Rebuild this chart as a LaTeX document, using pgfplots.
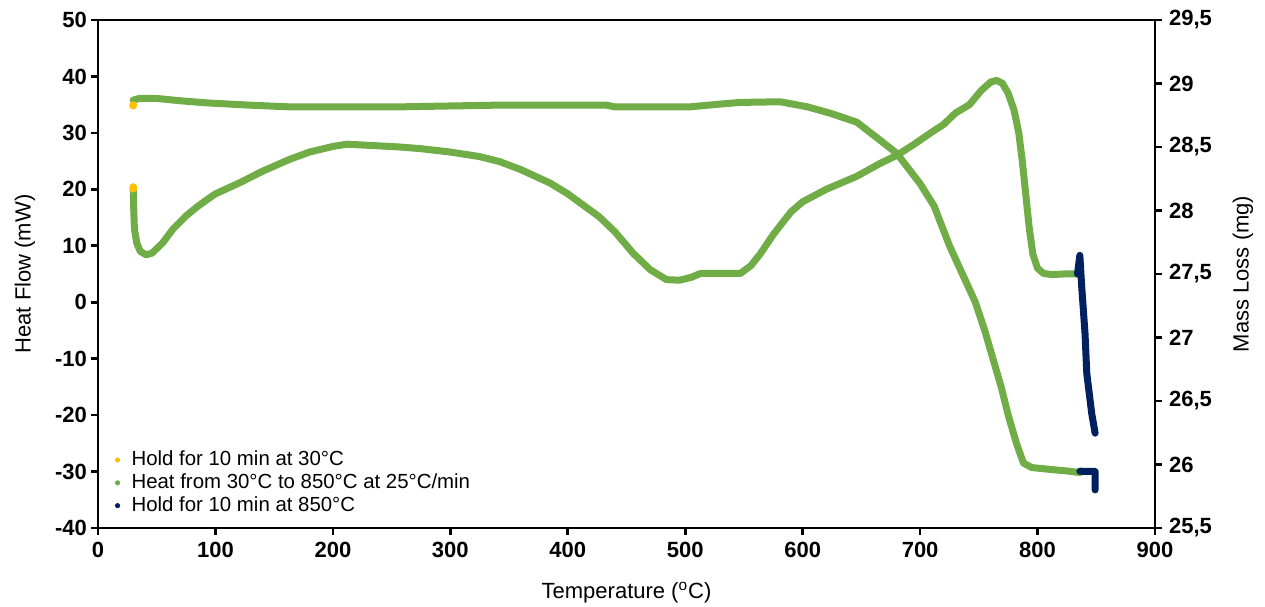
\documentclass[border=0pt]{standalone}
\usepackage{fontspec}
\setmainfont{Liberation Sans}
\usepackage{pgfplots}
\pgfplotsset{compat=1.18}
\definecolor{cHold}{HTML}{FFC000}
\definecolor{cHeat}{HTML}{70AD47}
\definecolor{cEnd}{HTML}{002060}

\begin{document}
\begin{tikzpicture}
\pgfplotsset{
  every axis/.append style={
    width=528.5pt, height=254pt, scale only axis,
    xmin=0, xmax=900,
    tick align=outside, major tick length=3.5pt,
    axis line style={line width=1.3pt},
    tick style={line width=1.3pt, black},
    tick label style={font=\fontsize{11}{13}\selectfont\bfseries},
    /pgf/number format/assume math mode=true,
    label style={font=\fontsize{11}{13}\selectfont},
  },
  curve/.style={line width=3.5pt, line cap=round, line join=round},
}

% left axis: heat flow
\begin{axis}[
  name=main,
  ymin=-40, ymax=50, ytick={-40,-30,...,50},
  xtick={0,100,...,900},
  xtick pos=bottom, ytick pos=left,
  yticklabel style={xshift=1.5pt},
  xlabel={Temperature (\textsuperscript{o}C)},
  ylabel={Heat Flow (mW)},
  xlabel style={at={([yshift=-32.5pt]axis description cs:0.5,0)}, anchor=center},
  ylabel style={at={([xshift=-36.5pt]axis description cs:0,0.5)}, anchor=center},
  legend cell align=left,
  legend style={at={(axis description cs:0.01,0.01)}, anchor=south west,
    draw=none, fill=none, font=\fontsize{10.2}{12}\selectfont, row sep=-1.5pt},
  legend image code/.code={%
    \path[fill, draw=none] (0,0) circle (1.3pt);
    \path[draw=none, fill=none] (0,0) -- (5pt,0);},
]
\addplot[only marks, mark=*, mark size=1.7pt, color=cHold] coordinates {
  (30,20.4) (30,20.1)
};
\addlegendentry{Hold for 10 min at 30°C}

\addplot[curve, color=cHeat] coordinates {
  (30,19.8) (30.5,16) (31,13) (33,10.5) (36,9) (41,8.4) (46,8.7) (55,10.5)
  (64,13.0) (75,15.3) (85,17) (93,18.2) (100,19.2) (121,21.2) (140,23.2)
  (163,25.3) (180,26.6) (200,27.6) (212,28) (230,27.8) (257,27.5) (275,27.2)
  (300,26.6) (325,25.8) (342,24.9) (360,23.5) (385,21.1) (400,19.2)
  (427,15.1) (440,12.5) (456,8.6) (470,5.8) (484,4) (495,3.9) (505,4.4)
  (513,5.1) (530,5.1) (547,5.1) (556,6.5) (564,8.6) (575,12) (590,16)
  (600,17.8) (620,20) (638,21.6) (646,22.3) (666,24.6) (680,26) (695,28)
  (709,30) (720,31.5) (730,33.5) (742,35) (752,37.5) (760,39) (765,39.3)
  (770,38.8) (775,37) (780,34) (784,30) (787,25) (790,19) (793,13)
  (796,8.5) (800,6) (805,5.1) (812,4.9) (822,5) (834,5)
};
\addlegendentry{Heat from 30°C to 850°C at 25°C/min}

\addplot[curve, color=cEnd] coordinates {
  (834,5.0) (836,8.3) (837.6,2.7) (840.4,-5.5) (841.9,-12.6)
  (846.1,-19.7) (849,-23.2)
};
\addlegendentry{Hold for 10 min at 850°C}
\end{axis}

% right axis: mass loss
\begin{axis}[
  ymin=25.5, ymax=29.5,
  ytick={25.5,26,26.5,27,27.5,28,28.5,29,29.5},
  axis x line=none, axis y line*=right, ytick pos=right,
  ylabel={Mass Loss (mg)},
  ylabel style={at={([xshift=44pt]axis description cs:1,0.5)}, anchor=center},
  /pgf/number format/use comma,
]
\addplot[only marks, mark=*, mark size=1.7pt, color=cHold] coordinates {
  (30,28.825) (30,28.83)
};
\addplot[curve, color=cHeat] coordinates {
  (30,28.869) (35,28.882) (50,28.882) (70,28.864) (93,28.847) (130,28.829)
  (163,28.816) (257,28.816) (337,28.829) (433,28.829) (440,28.816)
  (504,28.816) (530,28.838) (547,28.851) (581,28.856) (604,28.816)
  (623,28.767) (646,28.696) (666,28.553) (680,28.451) (700,28.211)
  (712,28.033) (725,27.722) (736,27.5) (747,27.278) (755,27.056)
  (762,26.833) (769,26.611) (775,26.389) (782,26.167) (788,26.011)
  (795,25.976) (810,25.962) (825,25.949) (836,25.936)
};
\addplot[curve, color=cEnd] coordinates {
  (836,25.947) (849,25.945) (849,25.90) (849,25.80)
};
\end{axis}

\pgfresetboundingbox
\path ([xshift=-49pt,yshift=-39.5pt]main.south west)
  rectangle ([xshift=55pt,yshift=10pt]main.north east);
\end{tikzpicture}
\end{document}
